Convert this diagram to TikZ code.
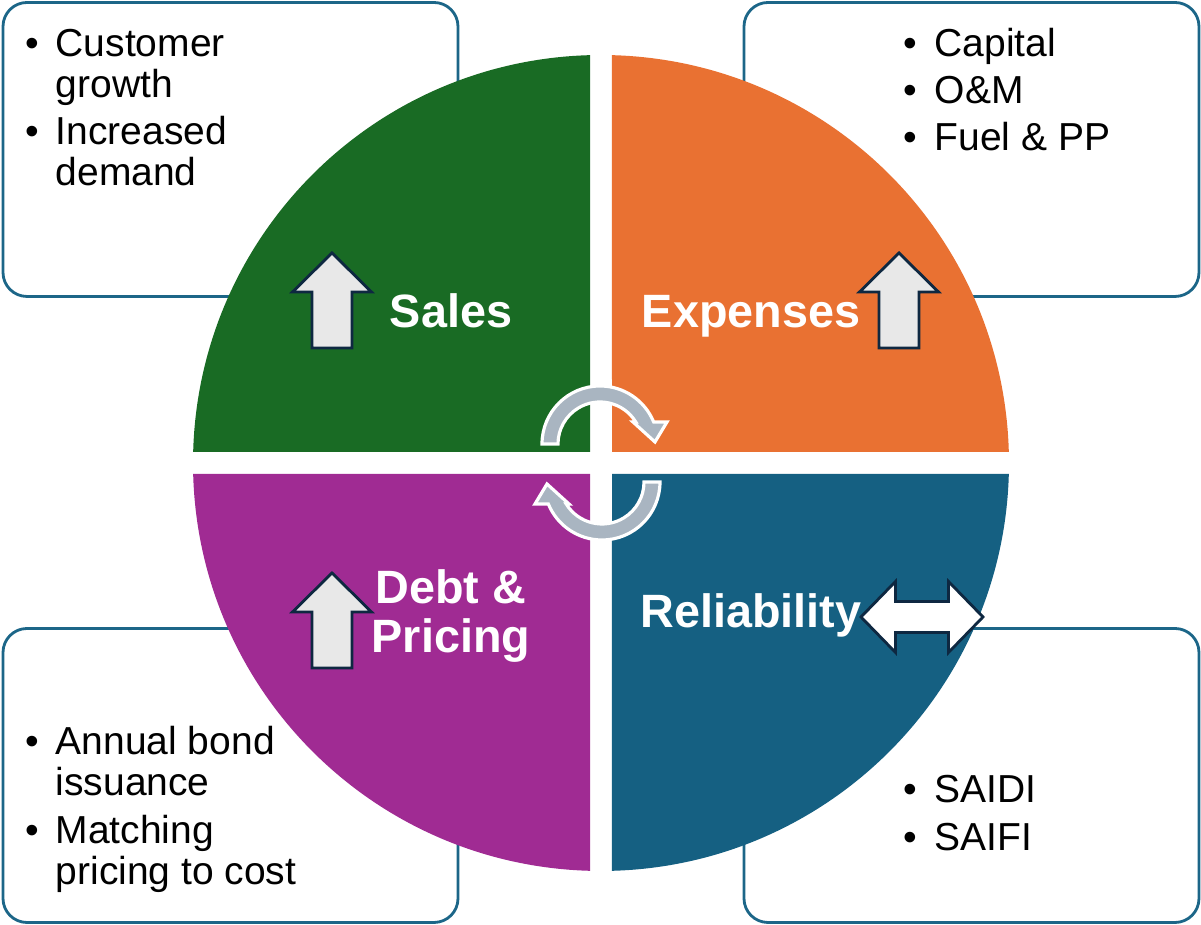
\documentclass[tikz,border=0pt]{standalone}
\usepackage{fontspec}
\setmainfont{Liberation Sans}
\usetikzlibrary{positioning}
\definecolor{salesgreen}{HTML}{196B24}
\definecolor{exporange}{HTML}{E97132}
\definecolor{relblue}{HTML}{156082}
\definecolor{debtpurple}{HTML}{A02B93}
\definecolor{boxblue}{HTML}{1C6688}
\definecolor{arrowline}{HTML}{0E2841}
\definecolor{arrowfill}{HTML}{E8E8E8}
\definecolor{cyclegray}{HTML}{A9B5C1}

\begin{document}
\begin{tikzpicture}[
      every node/.style={inner sep=0pt},
      infobox/.style={draw=boxblue, line width=0.8pt, rounded corners=0.24cm, fill=white, minimum width=4.55cm, minimum height=2.94cm},
      bulletdot/.style={anchor=base, font={\fontsize{11.1}{11.8}\selectfont}},
      itemtext/.style={anchor=base west, align=left, font={\fontsize{11.1}{11.8}\selectfont}},
      quadlabel/.style={anchor=base, align=center, text=white, font={\fontsize{13.3}{14.2}\selectfont\bfseries}},
      blockarrow/.style={draw=arrowline, line width=0.8pt, fill=arrowfill, line join=miter},
      cyclearrow/.style={draw=white, line width=0.9pt, fill=cyclegray},
    ]
    \useasboundingbox (-6.01,4.63) rectangle (6.00,-4.62);

    % corner boxes
    \node[infobox] (salesbox) at (-3.705, 3.135) {};
    \node[infobox] (costbox) at (3.705, 3.135) {};
    \node[infobox] (debtbox) at (-3.705, -3.125) {};
    \node[infobox] (relbox) at (3.705, -3.125) {};

    % the four quarters
    \foreach \ang/\col in {90/salesgreen, 0/exporange, -90/relblue, 180/debtpurple}
      \fill[\col, rotate=\ang] (0.11,0.11) -- (88.455:4.08) arc[start angle=88.455, end angle=1.545, radius=4.08] -- cycle;

    % box texts (two-line texts sit on their last line)
    \node[bulletdot] (sb1) at (-5.69, 4.06) {\textbullet};
    \node[itemtext] (st1) at (-5.46, 3.65) {Customer\\growth};
    \node[bulletdot] (sb2) at (-5.69, 3.18) {\textbullet};
    \node[itemtext] (st2) at (-5.46, 2.77) {Increased\\demand};

    \node[bulletdot] (cb1) at (3.09, 4.06) {\textbullet};
    \node[itemtext] (ct1) at (3.33, 4.06) {Capital};
    \node[bulletdot] (cb2) at (3.09, 3.59) {\textbullet};
    \node[itemtext] (ct2) at (3.33, 3.59) {O\&M};
    \node[bulletdot] (cb3) at (3.09, 3.12) {\textbullet};
    \node[itemtext] (ct3) at (3.33, 3.12) {Fuel \& PP};

    \node[bulletdot] (db1) at (-5.69, -2.92) {\textbullet};
    \node[itemtext] (dt1) at (-5.46, -3.33) {Annual bond\\issuance};
    \node[bulletdot] (db2) at (-5.69, -3.81) {\textbullet};
    \node[itemtext] (dt2) at (-5.46, -4.22) {Matching\\pricing to cost};

    \node[bulletdot] (rb1) at (3.09, -3.40) {\textbullet};
    \node[itemtext] (rt1) at (3.33, -3.40) {SAIDI};
    \node[bulletdot] (rb2) at (3.09, -3.88) {\textbullet};
    \node[itemtext] (rt2) at (3.33, -3.88) {SAIFI};

    % quarter labels
    \node[quadlabel] (sales) at (-1.50, 1.35) {Sales};
    \node[quadlabel] (expenses) at (1.50, 1.35) {Expenses};
    \node[quadlabel] (debt) at (-1.50, -1.90) {Debt \&\\Pricing};
    \node[quadlabel] (reliab) at (1.50, -1.65) {Reliability};

    % up arrows
    \foreach \p in {(-2.69,2.10), (2.98,2.10), (-2.69,-1.10)}
      \draw[blockarrow, shift={\p}] (0,0) -- (0.395,-0.39) -- (0.20,-0.39) -- (0.20,-0.95)
        -- (-0.20,-0.95) -- (-0.20,-0.39) -- (-0.395,-0.39) -- cycle;

    % both-way arrow
    \draw[blockarrow, fill=white, shift={(3.21,-1.54)}] (-0.61,0) -- (-0.265,0.355) -- (-0.265,0.155)
      -- (0.265,0.155) -- (0.265,0.355) -- (0.61,0) -- (0.265,-0.355) -- (0.265,-0.155)
      -- (-0.265,-0.155) -- (-0.265,-0.355) -- cycle;

    % turning arrows in the middle
    \foreach \r in {0,180}
      \draw[cyclearrow, rotate=\r, shift={(-0.01,0.19)}] (180:0.58) arc[start angle=180, end angle=22.3, radius=0.58]
        -- (0.67,0.22) -- (0.55,0.02) -- (0.33,0.22) -- (31.6:0.42) arc[start angle=31.6, end angle=180, radius=0.42] -- cycle;
  \end{tikzpicture}
\end{document}
